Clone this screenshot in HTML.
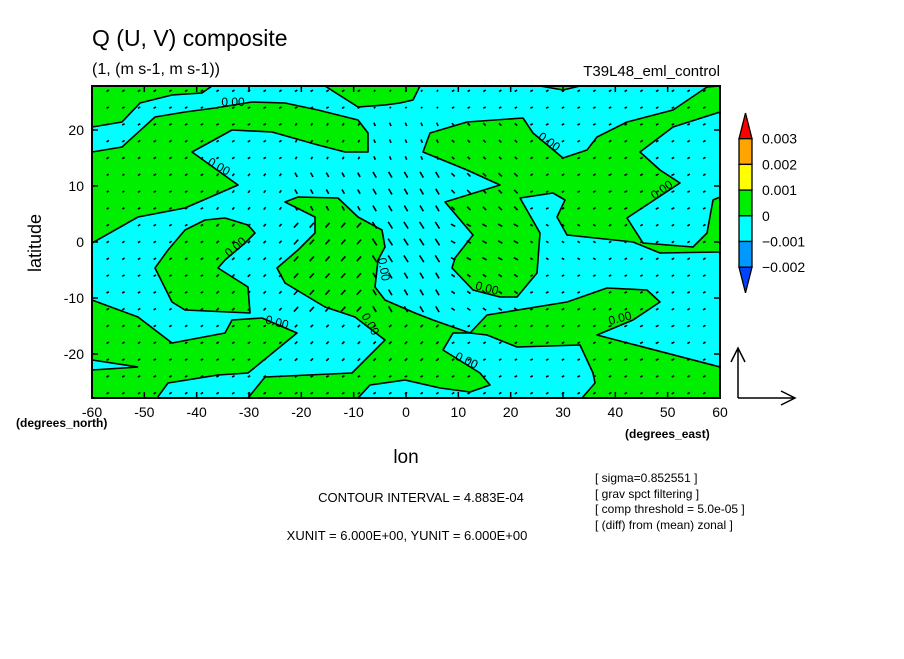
<!DOCTYPE html>
<html><head><meta charset="utf-8">
<style>
html,body{margin:0;padding:0;background:#fff;}
body{width:904px;height:654px;overflow:hidden;font-family:"Liberation Sans",sans-serif;}
svg text{font-family:"Liberation Sans",sans-serif;fill:#000;}
</style></head>
<body>
<svg id="chart" width="904" height="654" viewBox="0 0 904 654" xmlns="http://www.w3.org/2000/svg">
<rect x="0" y="0" width="904" height="654" fill="#fff"/>
<text x="92" y="46" font-size="23">Q (U, V) composite</text>
<text x="92" y="74" font-size="16">(1, (m s-1, m s-1))</text>
<text x="720" y="76" font-size="15" text-anchor="end">T39L48_eml_control</text>
<g id="plot"></g>
<g id="axes"></g>
<text x="41" y="243" font-size="18" text-anchor="middle" transform="rotate(-90 41 243)">latitude</text>
<text x="16" y="427" font-size="12" font-weight="bold">(degrees_north)</text>
<text x="625" y="438" font-size="12" font-weight="bold">(degrees_east)</text>
<text x="406" y="463" font-size="19" text-anchor="middle">lon</text>
<text x="421" y="502" font-size="13" text-anchor="middle">CONTOUR INTERVAL = 4.883E-04</text>
<text x="407" y="540" font-size="13" text-anchor="middle">XUNIT = 6.000E+00, YUNIT = 6.000E+00</text>
<g font-size="12">
<text x="595" y="482">[ sigma=0.852551 ]</text>
<text x="595" y="498">[ grav spct filtering ]</text>
<text x="595" y="513">[ comp threshold = 5.0e-05 ]</text>
<text x="595" y="529">[ (diff) from (mean) zonal ]</text>
</g>
<g id="colorbar"></g>
<g stroke="#000" stroke-width="1.5" fill="none">
<path d="M738 398 V348 M731 362 L738 348 L745 362"/>
<path d="M738 398 H795 M781 391 L795 398 L781 405"/>
</g>
</svg>
<script>
// axis data
const lonTicks=[-60,-50,-40,-30,-20,-10,0,10,20,30,40,50,60];
const latTicks=[-20,-10,0,10,20];
const cbLevels=["0.003","0.002","0.001","0","-0.001","-0.002"];
const cbColors=["#ff0000","#ffa500","#ffff00","#00ee00","#00ffff","#0099ff","#0044ff"];
// coarse wind field (m/s), rows lat 27..-27 step 9, cols lon -60..60 step 15
const gridLats=[27,18,9,0,-9,-18,-27];
const gridLons=[-60,-45,-30,-15,0,15,30,45,60];
const uWind=[
[0.25,0.25,0.25,0.25,0.15,0.25,0.25,0.25,0.25],
[0.25,0.25,0.25,0.15,-0.15,-0.25,0.25,0.25,0.25],
[0.2,0.25,0.2,-0.25,-0.35,-0.35,0.25,0.3,0.25],
[0.25,0.25,0.25,0.45,-0.45,-0.45,-0.25,0.25,0.25],
[0.25,0.25,0.25,0.45,-0.35,-0.35,0.25,0.25,0.25],
[0.25,0.25,0.25,0.25,0.25,0.25,0.25,0.3,0.25],
[0.25,0.25,0.25,0.25,0.25,0.25,0.25,0.25,0.25]];
const vWind=[
[0.15,0.15,0.15,0.15,0.15,0.15,0.15,0.15,0.15],
[0.15,0.15,0.15,0.25,0.35,0.25,0.15,0.15,0.15],
[0.15,0.15,0.25,0.45,0.6,0.35,0.15,0.15,0.15],
[0.15,0.15,0.25,0.5,0.7,0.25,0.15,0.15,0.15],
[0.15,0.15,0.25,0.5,0.6,0.25,0.15,0.15,0.15],
[0.15,0.15,0.15,0.25,0.25,0.15,0.15,0.15,0.15],
[0.15,0.15,0.15,0.15,0.15,0.15,0.15,0.15,0.15]];
// contour regions (positive) traced as pixel outlines
const greenRegions=[
[[92,86],[92,127],[122,122],[140,103],[172,95],[202,93],[212,86]],
[[92,152],[122,147],[155,117],[185,112],[215,108],[252,102],[285,103],[318,110],[358,120],[368,133],[368,152],[345,152],[318,145],[272,132],[232,130],[192,152],[238,185],[185,208],[138,217],[92,243]],
[[325,86],[358,107],[385,105],[400,103],[413,100],[420,86]],
[[540,86],[563,90],[580,86]],
[[155,268],[168,250],[185,230],[205,220],[225,218],[248,225],[255,233],[245,243],[225,260],[218,268],[248,287],[250,313],[185,310],[172,302]],
[[92,300],[138,317],[172,343],[225,333],[232,320],[262,318],[297,333],[248,373],[218,375],[168,383],[157,398],[92,398]],
[[285,202],[298,197],[338,198],[358,217],[382,230],[385,247],[378,260],[375,287],[385,300],[415,313],[433,320],[470,333],[453,333],[443,350],[480,373],[490,385],[470,392],[440,388],[405,380],[370,385],[358,398],[248,398],[265,377],[352,373],[385,340],[355,317],[325,307],[285,283],[277,268],[298,250],[315,233],[315,217]],
[[423,152],[430,133],[467,122],[523,118],[533,133],[563,158],[587,150],[597,137],[627,122],[673,110],[707,87],[720,86],[720,112],[673,127],[640,152],[660,170],[680,183],[627,218],[643,243],[693,247],[707,233],[713,200],[720,197],[720,252],[660,253],[633,242],[567,235],[557,217],[565,200],[553,193],[520,198],[540,233],[537,273],[517,297],[500,297],[473,290],[452,268],[455,258],[473,235],[445,202],[500,185],[467,170]],
[[470,333],[487,315],[567,302],[607,288],[647,290],[660,302],[633,320],[597,335],[720,367],[720,398],[582,398],[595,383],[593,373],[580,345],[517,347],[487,335]]
];
const cyanRegions=[[[92,360],[138,367],[92,370]]];
const contourLabels=[[233,106,0],[217,170,30],[238,250,-40],[276,326,15],[380,270,80],[367,326,60],[465,364,25],[486,292,15],[547,145,35],[664,193,-35],[621,322,-15]];

const NS="http://www.w3.org/2000/svg";
const X0=92,X1=720,Y0=86,Y1=398;
const xOf=lon=>X0+(lon+60)*(X1-X0)/120;
const yOf=lat=>242-lat*5.6;
function mk(tag,attrs,parent){const e=document.createElementNS(NS,tag);for(const k in attrs)e.setAttribute(k,attrs[k]);parent.appendChild(e);return e;}
const plot=document.getElementById('plot');
const axes=document.getElementById('axes');
const clip=mk('clipPath',{id:'pc'},plot);
mk('rect',{x:X0,y:Y0,width:X1-X0,height:Y1-Y0},clip);
const bg=mk('rect',{x:X0,y:Y0,width:X1-X0,height:Y1-Y0,fill:'#00ffff'},plot);


const cg=mk('g',{'clip-path':'url(#pc)'},plot);
greenRegions.forEach((r,i)=>{
 const p=mk('polygon',{points:r.map(q=>q.join(',')).join(' '),fill:'#00ee00',stroke:'#000','stroke-width':1.6,'stroke-linejoin':'round'},cg);
 
 
});
cyanRegions.forEach(r=>{
 const p=mk('polygon',{points:r.map(q=>q.join(',')).join(' '),fill:'#00ffff',stroke:'#000','stroke-width':1.6},cg);
 
 
});
contourLabels.forEach(l=>{
 const t=mk('text',{x:l[0],y:l[1],'font-size':12,'text-anchor':'middle',transform:`rotate(${l[2]} ${l[0]} ${l[1]})`},cg);
 t.textContent='0.00';
 
 
});
// vectors
function near(arr,val){let b=0;for(let i=1;i<arr.length;i++)if(Math.abs(arr[i]-val)<Math.abs(arr[b]-val))b=i;return b;}
const vg=mk('g',{stroke:'#000','stroke-width':1.6,'clip-path':'url(#pc)'},plot);


const scale=57/6;
for(let lat=27;lat>=-27;lat-=3){for(let lon=-57;lon<=57;lon+=3){
 const r=near(gridLats,lat),c=near(gridLons,lon);
 const u=uWind[r][c],v=vWind[r][c];
 const cx=xOf(lon),cy=yOf(lat);
 const dx=u*scale,dy=-v*scale;
 const a=mk('line',{x1:cx-dx/2,y1:cy-dy/2,x2:cx+dx/2,y2:cy+dy/2},vg);
 
 
}}
// frame & ticks
const fr=mk('rect',{x:X0,y:Y0,width:X1-X0,height:Y1-Y0,fill:'none',stroke:'#000','stroke-width':2},axes);


lonTicks.forEach(t=>{
 const x=xOf(t);
 mk('line',{x1:x,y1:Y1,x2:x,y2:Y1-6,stroke:'#000','stroke-width':1.5},axes);
 mk('line',{x1:x,y1:Y0,x2:x,y2:Y0+6,stroke:'#000','stroke-width':1.5},axes);
 const tx=mk('text',{x:x,y:417,'font-size':14,'text-anchor':'middle'},axes);
 tx.textContent=t;
 
 
});
latTicks.forEach(t=>{
 const y=yOf(t);
 mk('line',{x1:X0,y1:y,x2:X0+6,y2:y,stroke:'#000','stroke-width':1.5},axes);
 mk('line',{x1:X1,y1:y,x2:X1-6,y2:y,stroke:'#000','stroke-width':1.5},axes);
 const tx=mk('text',{x:84,y:y+5,'font-size':14,'text-anchor':'end'},axes);
 tx.textContent=t;
 
 
});
// colorbar
const cb=document.getElementById('colorbar');
const cbX=739,cbW=13,cbTop=113,step=25.7;
cbColors.forEach((col,i)=>{
 const y0=cbTop+i*step,y1=y0+step;let el;
 if(i===0) el=mk('polygon',{points:`${cbX+cbW/2},${y0} ${cbX+cbW},${y1} ${cbX},${y1}`,fill:col,stroke:'#000','stroke-width':1.3},cb);
 else if(i===cbColors.length-1) el=mk('polygon',{points:`${cbX},${y0} ${cbX+cbW},${y0} ${cbX+cbW/2},${y1}`,fill:col,stroke:'#000','stroke-width':1.3},cb);
 else el=mk('rect',{x:cbX,y:y0,width:cbW,height:step,fill:col,stroke:'#000','stroke-width':1.3},cb);
 
 
});
cbLevels.forEach((l,i)=>{
 const t=mk('text',{x:762,y:cbTop+(i+1)*step+5,'font-size':14},cb);
 t.textContent=l.replace('-','\u2212');
 
 
});
</script>
</body></html>
